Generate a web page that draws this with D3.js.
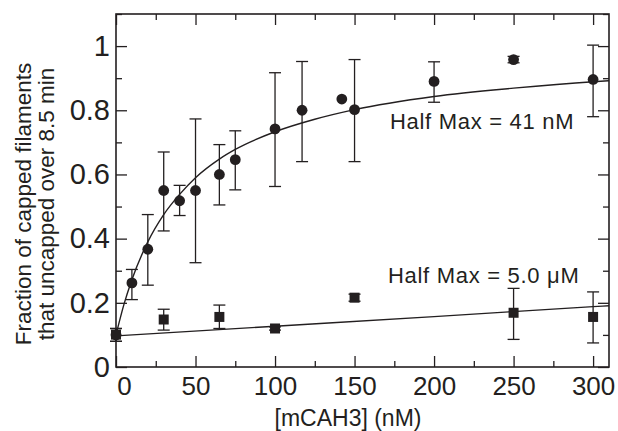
<!DOCTYPE html>
<html>
<head>
<meta charset="utf-8">
<script src="https://cdn.jsdelivr.net/npm/d3@7"></script>
<style>
  body { margin: 0; background: #fff; }
  svg text { font-family: "Liberation Sans", Arial, Helvetica, sans-serif; fill: #231f20; }
</style>
</head>
<body>
<svg id="chart"></svg>
<script>
// mCAH3 concentration (nM) and uncapped fraction, circles series
var circleX  = [0, 10, 20, 30, 40, 50, 65, 75, 100, 117, 142, 150, 200, 250, 300];
var circleY  = [0.10, 0.262, 0.367, 0.55, 0.518, 0.55, 0.60, 0.646, 0.742, 0.80, 0.835, 0.802, 0.89, 0.958, 0.896];
var circleHi = [0.12, 0.304, 0.475, 0.67, 0.566, 0.773, 0.693, 0.736, 0.917, 0.952, 0.835, 0.958, 0.951, 0.968, 1.003];
var circleLo = [0.08, 0.21, 0.255, 0.424, 0.472, 0.325, 0.505, 0.552, 0.5625, 0.64, 0.835, 0.64, 0.825, 0.948, 0.78];

// squares series
var squareX  = [0, 30, 65, 100, 150, 250, 300];
var squareY  = [0.101, 0.148, 0.156, 0.12, 0.216, 0.169, 0.156];
var squareHi = [0.12, 0.18, 0.193, 0.125, 0.227, 0.245, 0.234];
var squareLo = [0.08, 0.115, 0.12, 0.115, 0.205, 0.086, 0.075];

// fitted curves
var fitCircleX = [0, 5, 10, 20, 30, 40, 50, 65, 75, 100, 125, 150, 200, 250, 300, 310];
var fitCircleY = [0.10, 0.195, 0.272, 0.39, 0.475, 0.538, 0.59, 0.648, 0.678, 0.733, 0.772, 0.802, 0.843, 0.869, 0.889, 0.892];
var fitSquareX = [0, 100, 200, 300, 310];
var fitSquareY = [0.097, 0.127, 0.157, 0.188, 0.191];

var xTicks = [0, 50, 100, 150, 200, 250, 300];
var xMinor = [25, 75, 125, 175, 225, 275];
var yTicks = [0, 0.2, 0.4, 0.6, 0.8, 1];
var yMinor = [0.1, 0.3, 0.5, 0.7, 0.9, 1.1];

var width = 618, height = 431;
var margin = {top: 14, right: 9, bottom: 64, left: 116};

var svg = d3.select("#chart")
    .attr("width", width)
    .attr("height", height);

var x = d3.scaleLinear().domain([0, 310]).range([margin.left, width - margin.right]);
var y = d3.scaleLinear().domain([0, 1.1]).range([height - margin.bottom, margin.top]);

var ink = "#231f20";

//Axes - ticks point inward on all four sides
function styleAxis(g) {
  g.select(".domain").remove();
  g.selectAll(".tick line").attr("stroke", ink).attr("stroke-width", 1.3);
}

svg.append("g")
    .attr("transform", "translate(0," + y(0) + ")")
    .call(d3.axisBottom(x).tickValues(xTicks).tickSize(-11).tickPadding(8).tickFormat(d3.format("d")))
    .call(styleAxis)
    .call(g => g.selectAll("text").style("font-size", "26px").attr("dy", "0.75em")
        .attr("dx", d => d === 0 ? 8 : 0));
svg.append("g")
    .attr("transform", "translate(0," + y(0) + ")")
    .call(d3.axisBottom(x).tickValues(xMinor).tickSize(-6).tickFormat(""))
    .call(styleAxis);

svg.append("g")
    .attr("transform", "translate(0," + y(1.1) + ")")
    .call(d3.axisTop(x).tickValues(xTicks).tickSize(-11).tickFormat(""))
    .call(styleAxis);
svg.append("g")
    .attr("transform", "translate(0," + y(1.1) + ")")
    .call(d3.axisTop(x).tickValues(xMinor).tickSize(-6).tickFormat(""))
    .call(styleAxis);

svg.append("g")
    .attr("transform", "translate(" + x(0) + ",0)")
    .call(d3.axisLeft(y).tickValues(yTicks).tickSize(-11).tickPadding(6).tickFormat(d => d === 0 ? "0" : (d === 1 ? "1" : d3.format(".1f")(d))))
    .call(styleAxis)
    .call(g => g.selectAll("text").style("font-size", "29px"));
svg.append("g")
    .attr("transform", "translate(" + x(0) + ",0)")
    .call(d3.axisLeft(y).tickValues(yMinor).tickSize(-6).tickFormat(""))
    .call(styleAxis);

svg.append("g")
    .attr("transform", "translate(" + x(310) + ",0)")
    .call(d3.axisRight(y).tickValues(yTicks).tickSize(-11).tickFormat(""))
    .call(styleAxis);
svg.append("g")
    .attr("transform", "translate(" + x(310) + ",0)")
    .call(d3.axisRight(y).tickValues(yMinor).tickSize(-6).tickFormat(""))
    .call(styleAxis);

//Frame
svg.append("rect")
    .attr("x", x(0))
    .attr("y", y(1.1))
    .attr("width", x(310) - x(0))
    .attr("height", y(0) - y(1.1))
    .attr("fill", "none")
    .attr("stroke", ink)
    .attr("stroke-width", 1.6);

//Fit lines
var line = d3.line().x(d => x(d[0])).y(d => y(d[1])).curve(d3.curveMonotoneX);
svg.append("path")
    .datum(d3.zip(fitCircleX, fitCircleY))
    .attr("d", line)
    .attr("fill", "none").attr("stroke", ink).attr("stroke-width", 1.4);
svg.append("path")
    .datum(d3.zip(fitSquareX, fitSquareY))
    .attr("d", line)
    .attr("fill", "none").attr("stroke", ink).attr("stroke-width", 1.4);

//Error bars
function errorBars(xs, hi, lo) {
  var g = svg.append("g").attr("stroke", ink).attr("stroke-width", 1.3);
  xs.forEach(function(v, i) {
    if (hi[i] - lo[i] < 0.001) return;
    g.append("line").attr("x1", x(v)).attr("x2", x(v)).attr("y1", y(hi[i])).attr("y2", y(lo[i]));
    g.append("line").attr("x1", x(v) - 6).attr("x2", x(v) + 6).attr("y1", y(hi[i])).attr("y2", y(hi[i]));
    g.append("line").attr("x1", x(v) - 6).attr("x2", x(v) + 6).attr("y1", y(lo[i])).attr("y2", y(lo[i]));
  });
}
errorBars(circleX, circleHi, circleLo);
errorBars(squareX, squareHi, squareLo);

//Markers
svg.append("g")
  .selectAll("circle")
  .data(d3.zip(circleX, circleY))
  .join("circle")
    .attr("cx", d => x(d[0]))
    .attr("cy", d => y(d[1]))
    .attr("r", 5.4)
    .attr("fill", ink);

svg.append("g")
  .selectAll("rect")
  .data(d3.zip(squareX, squareY))
  .join("rect")
    .attr("x", d => x(d[0]) - 5)
    .attr("y", d => y(d[1]) - 5)
    .attr("width", 10)
    .attr("height", 10)
    .attr("fill", ink);

//Annotations
svg.append("text")
    .attr("x", 390).attr("y", 129)
    .style("font-size", "22px")
    .style("letter-spacing", "0.7px")
    .text("Half Max = 41 nM");
svg.append("text")
    .attr("x", 388).attr("y", 282.5)
    .style("font-size", "22px")
    .style("letter-spacing", "0.7px")
    .text("Half Max = 5.0 \u03bcM");

//Axis titles
svg.append("text")
    .attr("x", 348).attr("y", 426)
    .attr("text-anchor", "middle")
    .style("font-size", "23px")
    .text("[mCAH3] (nM)");

var yTitle = svg.append("text")
    .attr("transform", "translate(30.5,204) rotate(-90)")
    .attr("text-anchor", "middle")
    .style("font-size", "22.5px");
yTitle.append("tspan").attr("x", 0).attr("y", 0).text("Fraction of capped filaments");
yTitle.append("tspan").attr("x", 0).attr("y", 23.5).text("that uncapped over 8.5 min");
</script>
</body>
</html>
